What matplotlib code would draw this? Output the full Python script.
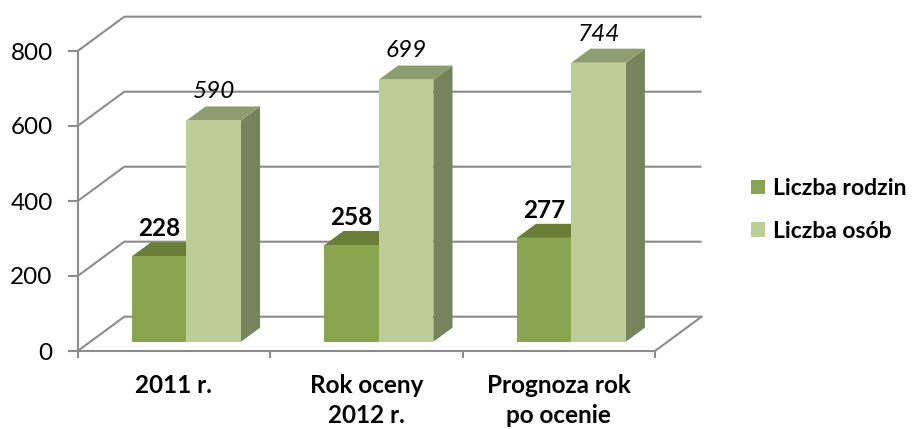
import matplotlib.pyplot as plt
from matplotlib.patches import Polygon, Patch

plt.rcParams['font.family'] = ['Lato', 'DejaVu Sans']

categories = ['2011 r.', 'Rok oceny\n2012 r.', 'Prognoza rok\npo ocenie']
rodziny = [228, 258, 277]
osoby = [590, 699, 744]
series_names = ['Liczba rodzin', 'Liczba osób']

# colours (front, top, side)
dark = ('#8aa54f', '#6a7e37', '#5f7231')
light = ('#bccd97', '#8e9d6f', '#77835a')
grid_col = '#8c8c8c'

W, H = 915, 429
fig = plt.figure(figsize=(W / 100, H / 100), dpi=100)
ax = fig.add_axes([77.7 / W, (H - 351) / H, 577.3 / W, 300 / H])
ax.set_xlim(0, 3)
ax.set_ylim(0, 800)

# pseudo 3d: one unit of depth shifts by DX categories and DY value units
DX = 46.6 / 192.5
DY = 34.3 / 0.375


def proj(c, v, d):
    return c + DX * d, v + DY * d


# walls / grid
for v in range(0, 801, 200):
    x0, y0 = proj(0, v, 0)
    x1, y1 = proj(0, v, 1)
    x2, y2 = proj(3, v, 1)
    ax.plot([x0, x1, x2], [y0, y1, y2], color=grid_col, lw=1.5,
            clip_on=False, zorder=1, solid_capstyle='butt')
x0, y0 = proj(3, 0, 0)
x1, y1 = proj(3, 0, 1)
ax.plot([x0, x1], [y0, y1], color=grid_col, lw=1.5, clip_on=False, zorder=1)

d0, d1 = 0.27, 0.68
bw = 0.283


def bar3d(left, val, cols):
    front, top, side = cols
    c0, c1 = left, left + bw
    pts_side = [proj(c1, 0, d0), proj(c1, 0, d1), proj(c1, val, d1), proj(c1, val, d0)]
    pts_top = [proj(c0, val, d0), proj(c1, val, d0), proj(c1, val, d1), proj(c0, val, d1)]
    pts_front = [proj(c0, 0, d0), proj(c1, 0, d0), proj(c1, val, d0), proj(c0, val, d0)]
    for pts, col in ((pts_side, side), (pts_top, top), (pts_front, front)):
        ax.add_patch(Polygon(pts, closed=True, facecolor=col, edgecolor='none',
                             clip_on=False, zorder=3))


for i in range(len(categories)):
    l1 = i + 0.5 - bw
    l2 = i + 0.5
    bar3d(l1, rodziny[i], dark)
    bar3d(l2, osoby[i], light)
    # labels
    x, _ = proj(l1 + bw / 2, 0, d0)
    _, y = proj(0, rodziny[i], d1)
    ax.annotate(str(rodziny[i]), (x, y), xytext=(0, 9.5), textcoords='offset points',
                ha='center', va='center', fontsize=17.5, fontweight='bold',
                annotation_clip=False, zorder=5)
    x, _ = proj(l2 + bw / 2, 0, d0)
    _, y = proj(0, osoby[i], d1)
    ax.annotate(str(osoby[i]), (x, y), xytext=(0, 10.5), textcoords='offset points',
                ha='center', va='center', fontsize=17.5, fontstyle='italic',
                annotation_clip=False, zorder=5)
    for k, line in enumerate(categories[i].split('\n')):
        ax.annotate(line, (i + 0.5, 0), xytext=(0, -25 - 21.6 * k),
                    textcoords='offset points', ha='center', va='center',
                    fontsize=17.5, fontweight='bold', annotation_clip=False)

# axes
for s in ('top', 'right'):
    ax.spines[s].set_visible(False)
for s in ('left', 'bottom'):
    ax.spines[s].set_color(grid_col)
    ax.spines[s].set_linewidth(1.5)
    ax.spines[s].set_zorder(2)
ax.set_yticks(range(0, 801, 200))
ax.set_xticks([0, 1, 2, 3])
ax.set_xticklabels([])
ax.tick_params(axis='y', length=7, width=1.5, color=grid_col, labelsize=17.5, pad=11)
ax.tick_params(axis='x', length=5, width=1.5, color=grid_col)
ax.patch.set_visible(False)

handles = [Patch(facecolor=dark[0]), Patch(facecolor=light[0])]
fig.legend(handles, series_names, loc='center left', bbox_to_anchor=(751 / W, 1 - 210 / H),
           frameon=False, prop={'weight': 'bold', 'size': 16.5}, borderpad=0,
           borderaxespad=0, handlelength=0.62, handleheight=0.62,
           handletextpad=0.35, labelspacing=0.95)

fig.savefig('out.png', dpi=100)
